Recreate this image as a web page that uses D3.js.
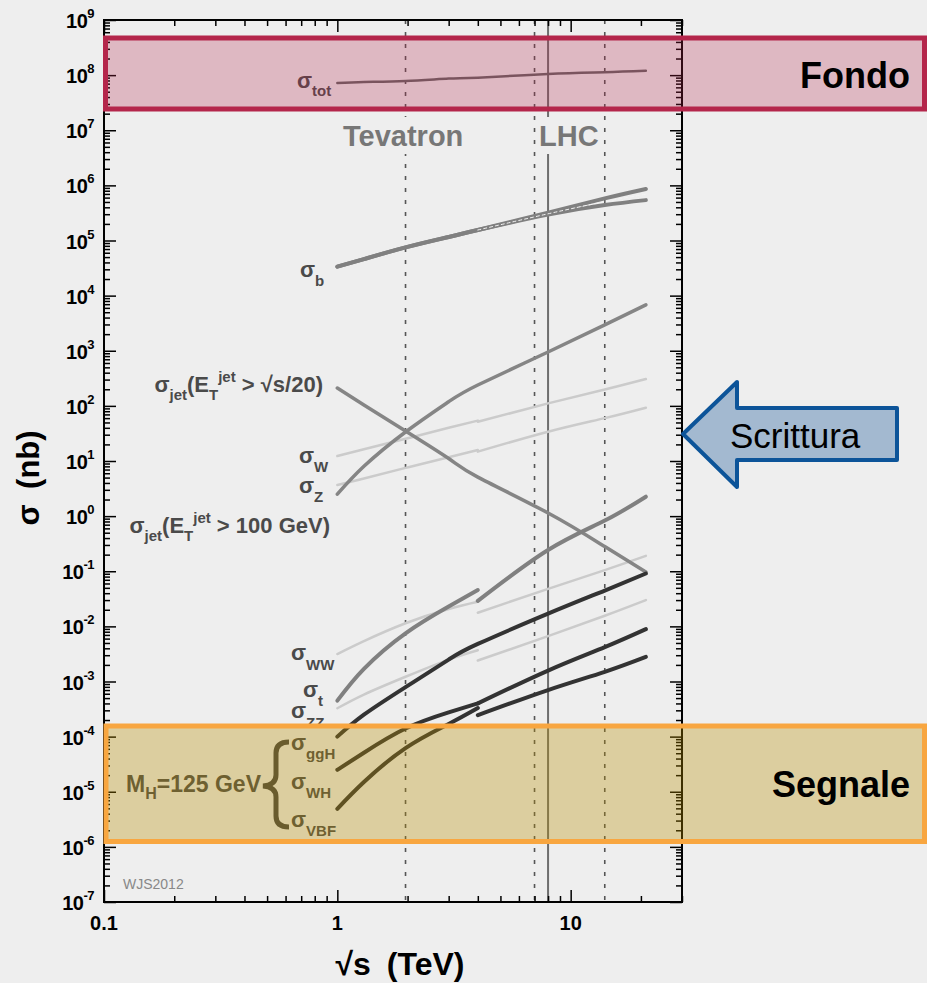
<!DOCTYPE html>
<html>
<head>
<meta charset="utf-8">
<script src="https://cdn.jsdelivr.net/npm/d3@7/dist/d3.min.js"></script>
<style>
  body { margin: 0; background: #eeeeee; }
  svg { display: block; font-family: "Liberation Sans", Arial, Helvetica, sans-serif; }
</style>
</head>
<body>
<svg id="chart" width="927" height="983"></svg>
<script>
// sqrt(s) in TeV: p-pbar branch up to 4 TeV, pp branch from 4 TeV
const rootS_ppbar = [1, 1.3, 1.96, 3, 4];
const rootS_pp = [4, 8, 14, 21];
const rootS_all = [1, 1.3, 1.96, 3, 4, 8, 14, 21];

// cross sections (nb)
const sigmaTot = [7.2e7, 7.5e7, 7.8e7, 8.65e7, 9.0e7, 1.05e8, 1.13e8, 1.2e8];
const sigmaB_hi = [3.35e4, 4.6e4, 7.5e4, 1.16e5, 1.55e5, 3.2e5, 5.8e5, 8.6e5];
const sigmaB_lo = [3.35e4, 4.6e4, 7.5e4, 1.16e5, 1.55e5, 2.95e5, 4.4e5, 5.4e5];
const sigmaB_mid = [1.55e5, 3.05e5, 5.05e5, 6.9e5];           // pp only, dashed
const sigmaJetScaled = [211, 104, 35, 11.1, 5.1, 1.14, 0.28, 0.097];
const sigmaJet100 = [2.5, 8, 33.6, 119, 239, 950, 2950, 6800];
const sigmaGGH = [1.0e-4, 2.5e-4, 7.9e-4, 2.5e-3, 4.8e-3, 1.7e-2, 4.47e-2, 9.1e-2];

const sigmaW_ppbar = [12.3, 16.3, 25.3, 40, 54];
const sigmaW_pp = [51.6, 111, 198, 307];
const sigmaZ_ppbar = [3.66, 4.8, 7.5, 11.7, 15.8];
const sigmaZ_pp = [14.8, 34, 60, 92.7];
const sigmaWW_ppbar = [3.15e-3, 5.4e-3, 1.14e-2, 2.07e-2, 2.8e-2];
const sigmaWW_pp = [1.77e-2, 0.048, 0.105, 0.19];
const sigmaT_ppbar = [4.5e-4, 1.7e-3, 7.5e-3, 2.3e-2, 4.57e-2];
const sigmaT_pp = [2.9e-2, 0.243, 0.83, 2.25];
const sigmaZZ_ppbar = [3.27e-4, 5.8e-4, 1.22e-3, 2.5e-3, 3.7e-3];
const sigmaZZ_pp = [2.4e-3, 6.65e-3, 1.56e-2, 3.0e-2];
const sigmaWH_ppbar = [2.5e-5, 5.1e-5, 1.4e-4, 2.75e-4, 4.0e-4];
const sigmaWH_pp = [2.45e-4, 7.0e-4, 1.5e-3, 2.8e-3];
const sigmaVBF_ppbar = [4.9e-6, 1.5e-5, 6.2e-5, 1.7e-4, 3.3e-4];
const sigmaVBF_pp = [4.0e-4, 1.58e-3, 4.2e-3, 8.9e-3];

// colliders
const tevatron = [1.96];
const lhcDotted = [7, 14];
const lhcSolid = [8];

// axis labels
const xTickLabels = ["0.1", "1", "10"];
const yExponents = d3.range(-7, 10);

const svg = d3.select("#chart");
svg.append("rect").attr("width", 927).attr("height", 983).attr("fill", "#eeeeee");

const plot = { left: 104, right: 682, top: 20, bottom: 902 };
const x = d3.scaleLog().domain([0.1, 30]).range([plot.left, plot.right]);
const y = d3.scaleLog().domain([1e-7, 1e9]).range([plot.bottom, plot.top]);

const isDecade = v => Math.abs(Math.log10(v) - Math.round(Math.log10(v))) < 1e-6;
const xMinor = x.ticks().filter(v => !isDecade(v));
const xMajor = x.ticks().filter(isDecade);
const yMajor = yExponents.map(e => Math.pow(10, e));
let yMinor = [];
yExponents.slice(0, -1).forEach(e => d3.range(2, 10).forEach(k => yMinor.push(k * Math.pow(10, e))));

// ---- vertical collider lines
const vlines = svg.append("g");
tevatron.concat(lhcDotted).forEach(v => {
  vlines.append("line").attr("x1", x(v)).attr("x2", x(v)).attr("y1", plot.top).attr("y2", plot.bottom)
    .attr("stroke", "#555").attr("stroke-width", 1.6).attr("stroke-dasharray", "4,8");
});
lhcSolid.forEach(v => {
  vlines.append("line").attr("x1", x(v)).attr("x2", x(v)).attr("y1", plot.top).attr("y2", plot.bottom)
    .attr("stroke", "#6e6e6e").attr("stroke-width", 2);
});

// collider names, knocking a gap out of the lines
function colliderName(txt, xPos) {
  const t = svg.append("text").attr("x", xPos).attr("y", 146).text(txt)
    .attr("font-size", 29).attr("font-weight", "bold").attr("fill", "#777");
  const bb = t.node().getBBox();
  svg.insert("rect", "text").attr("x", bb.x - 2).attr("y", 117).attr("width", bb.width + 4).attr("height", 37)
    .attr("fill", "#eeeeee");
}
colliderName("Tevatron", 343);
colliderName("LHC", 539);

// ---- curves
const line = d3.line().x(d => x(d[0])).y(d => y(d[1])).curve(d3.curveNatural);
function curve(xs, ys, color, w, dash) {
  svg.append("path").datum(d3.zip(xs, ys)).attr("d", line)
    .attr("fill", "none").attr("stroke", color).attr("stroke-width", w)
    .attr("stroke-linecap", "round").attr("stroke-dasharray", dash || null);
}
const light = "#cbcbcb", mid = "#808080", dark = "#333333";

curve(rootS_ppbar, sigmaW_ppbar, light, 2.5);
curve(rootS_pp, sigmaW_pp, light, 2.5);
curve(rootS_ppbar, sigmaZ_ppbar, light, 2.5);
curve(rootS_pp, sigmaZ_pp, light, 2.5);
curve(rootS_ppbar, sigmaWW_ppbar, light, 2.5);
curve(rootS_pp, sigmaWW_pp, light, 2.5);
curve(rootS_ppbar, sigmaZZ_ppbar, light, 2.5);
curve(rootS_pp, sigmaZZ_pp, light, 2.5);

curve(rootS_all, sigmaTot, "#666", 2.5);
curve(rootS_all, sigmaB_hi, mid, 4);
curve(rootS_all, sigmaB_lo, mid, 4);
curve(rootS_pp, sigmaB_mid, "#f4f4f4", 1, "3,3");
curve(rootS_all, sigmaJetScaled, "#858585", 3.5);
curve(rootS_all, sigmaJet100, "#858585", 3.5);
curve(rootS_ppbar, sigmaT_ppbar, mid, 4);
curve(rootS_pp, sigmaT_pp, mid, 4);

curve(rootS_all, sigmaGGH, dark, 4);
curve(rootS_ppbar, sigmaWH_ppbar, dark, 4);
curve(rootS_pp, sigmaWH_pp, dark, 4);
curve(rootS_ppbar, sigmaVBF_ppbar, dark, 4);
curve(rootS_pp, sigmaVBF_pp, dark, 4);

// ---- frame and ticks
function ticks(axisFn, values, size, transform) {
  svg.append("g").attr("transform", transform)
    .call(axisFn.tickValues(values).tickSize(size).tickSizeOuter(0).tickFormat(""))
    .call(g => g.select(".domain").remove())
    .selectAll("line").attr("stroke", "#000").attr("stroke-width", 1.5);
}
ticks(d3.axisLeft(y), yMajor, -12, `translate(${plot.left},0)`);
ticks(d3.axisLeft(y), yMinor, -6, `translate(${plot.left},0)`);
ticks(d3.axisRight(y), yMajor, -12, `translate(${plot.right},0)`);
ticks(d3.axisRight(y), yMinor, -6, `translate(${plot.right},0)`);
ticks(d3.axisBottom(x), xMajor, -12, `translate(0,${plot.bottom})`);
ticks(d3.axisBottom(x), xMinor, -6, `translate(0,${plot.bottom})`);
ticks(d3.axisTop(x), xMajor, -12, `translate(0,${plot.top})`);
ticks(d3.axisTop(x), xMinor, -6, `translate(0,${plot.top})`);

svg.append("rect").attr("x", plot.left).attr("y", plot.top)
  .attr("width", plot.right - plot.left).attr("height", plot.bottom - plot.top)
  .attr("fill", "none").attr("stroke", "#000").attr("stroke-width", 2);

// tick labels
svg.append("g").selectAll("text").data(xMajor).enter().append("text")
  .attr("x", d => x(d)).attr("y", 930).attr("text-anchor", "middle")
  .attr("font-size", 20).attr("font-weight", "bold")
  .text((d, i) => xTickLabels[i]);

const yl = svg.append("g").selectAll("text").data(yExponents).enter().append("text")
  .attr("x", 94).attr("y", d => y(Math.pow(10, d)) + 8).attr("text-anchor", "end")
  .attr("font-size", 20).attr("font-weight", "bold").attr("letter-spacing", -0.5);
yl.append("tspan").text("10");
yl.append("tspan").attr("dy", -10).attr("font-size", 13).text(d => d);

// axis titles
svg.append("text").attr("transform", "translate(39,478) rotate(-90)").attr("text-anchor", "middle")
  .attr("font-size", 31).attr("font-weight", "bold").text("σ\u2002(nb)");
svg.append("text").attr("x", 400).attr("y", 975).attr("text-anchor", "middle")
  .attr("font-size", 32).attr("font-weight", "bold").text("√s\u2002(TeV)");

svg.append("text").attr("x", 123).attr("y", 889).attr("font-size", 14).attr("fill", "#888").text("WJS2012");

// ---- curve labels: parts are [text, baseline shift]
function label(xPos, yPos, parts, anchor, size) {
  size = size || 22;
  const t = svg.append("text").attr("x", xPos).attr("y", yPos).attr("fill", "#4a4a4a")
    .attr("font-size", size).attr("font-weight", "bold").attr("text-anchor", anchor || "start");
  let prev = 0;
  parts.forEach(p => {
    t.append("tspan").attr("dy", p[1] - prev).attr("font-size", p[1] ? Math.round(size * 0.68) : size).text(p[0]);
    prev = p[1];
  });
}
label(297, 88, [["σ", 0], ["tot", 8]]);
label(300, 277, [["σ", 0], ["b", 9]]);
label(323, 392, [["σ", 0], ["jet", 8], ["(E", 0], ["T", 8], ["jet", -10], [" > √s/20)", 0]], "end", 22);
label(299, 463, [["σ", 0], ["W", 9]]);
label(299, 493, [["σ", 0], ["Z", 9]]);
label(330, 533, [["σ", 0], ["jet", 8], ["(E", 0], ["T", 8], ["jet", -10], [" > 100 GeV)", 0]], "end", 22);
label(291, 660, [["σ", 0], ["WW", 10]]);
label(303, 697, [["σ", 0], ["t", 9]]);
label(291, 718, [["σ", 0], ["ZZ", 10]]);
label(291, 750, [["σ", 0], ["ggH", 9]]);
label(291, 789, [["σ", 0], ["WH", 9]]);
label(291, 827, [["σ", 0], ["VBF", 9]]);
label(261, 792, [["M", 0], ["H", 7], ["=125 GeV", 0]], "end", 23);

// brace grouping the Higgs channels
svg.append("path")
  .attr("d", "M289,742 Q276,742 276,753 L276,775 Q276,785 263,786 Q276,787 276,797 L276,816 Q276,827 289,827")
  .attr("fill", "none").attr("stroke", "#444").attr("stroke-width", 5);

// ---- overlays
svg.append("rect").attr("x", 105.5).attr("y", 38).attr("width", 819).attr("height", 71)
  .attr("fill", "rgb(181,38,76)").attr("fill-opacity", 0.265)
  .attr("stroke", "#b4264b").attr("stroke-width", 5);
svg.append("text").attr("x", 910).attr("y", 88).attr("text-anchor", "end")
  .attr("font-size", 36).attr("font-weight", "bold").text("Fondo");

svg.append("rect").attr("x", 106).attr("y", 726).attr("width", 818.5).attr("height", 115.5)
  .attr("fill", "rgb(184,142,0)").attr("fill-opacity", 0.33)
  .attr("stroke", "#f8a640").attr("stroke-width", 5);
svg.append("text").attr("x", 910).attr("y", 797).attr("text-anchor", "end")
  .attr("font-size", 36).attr("font-weight", "bold").text("Segnale");

svg.append("polygon")
  .attr("points", "683,434 737,382 737,408 897,408 897,460 737,460 737,487")
  .attr("fill", "#a3b9d0").attr("stroke", "#0c5499").attr("stroke-width", 4).attr("stroke-linejoin", "round");
svg.append("text").attr("x", 730).attr("y", 448).attr("font-size", 35).text("Scrittura");
</script>
</body>
</html>
